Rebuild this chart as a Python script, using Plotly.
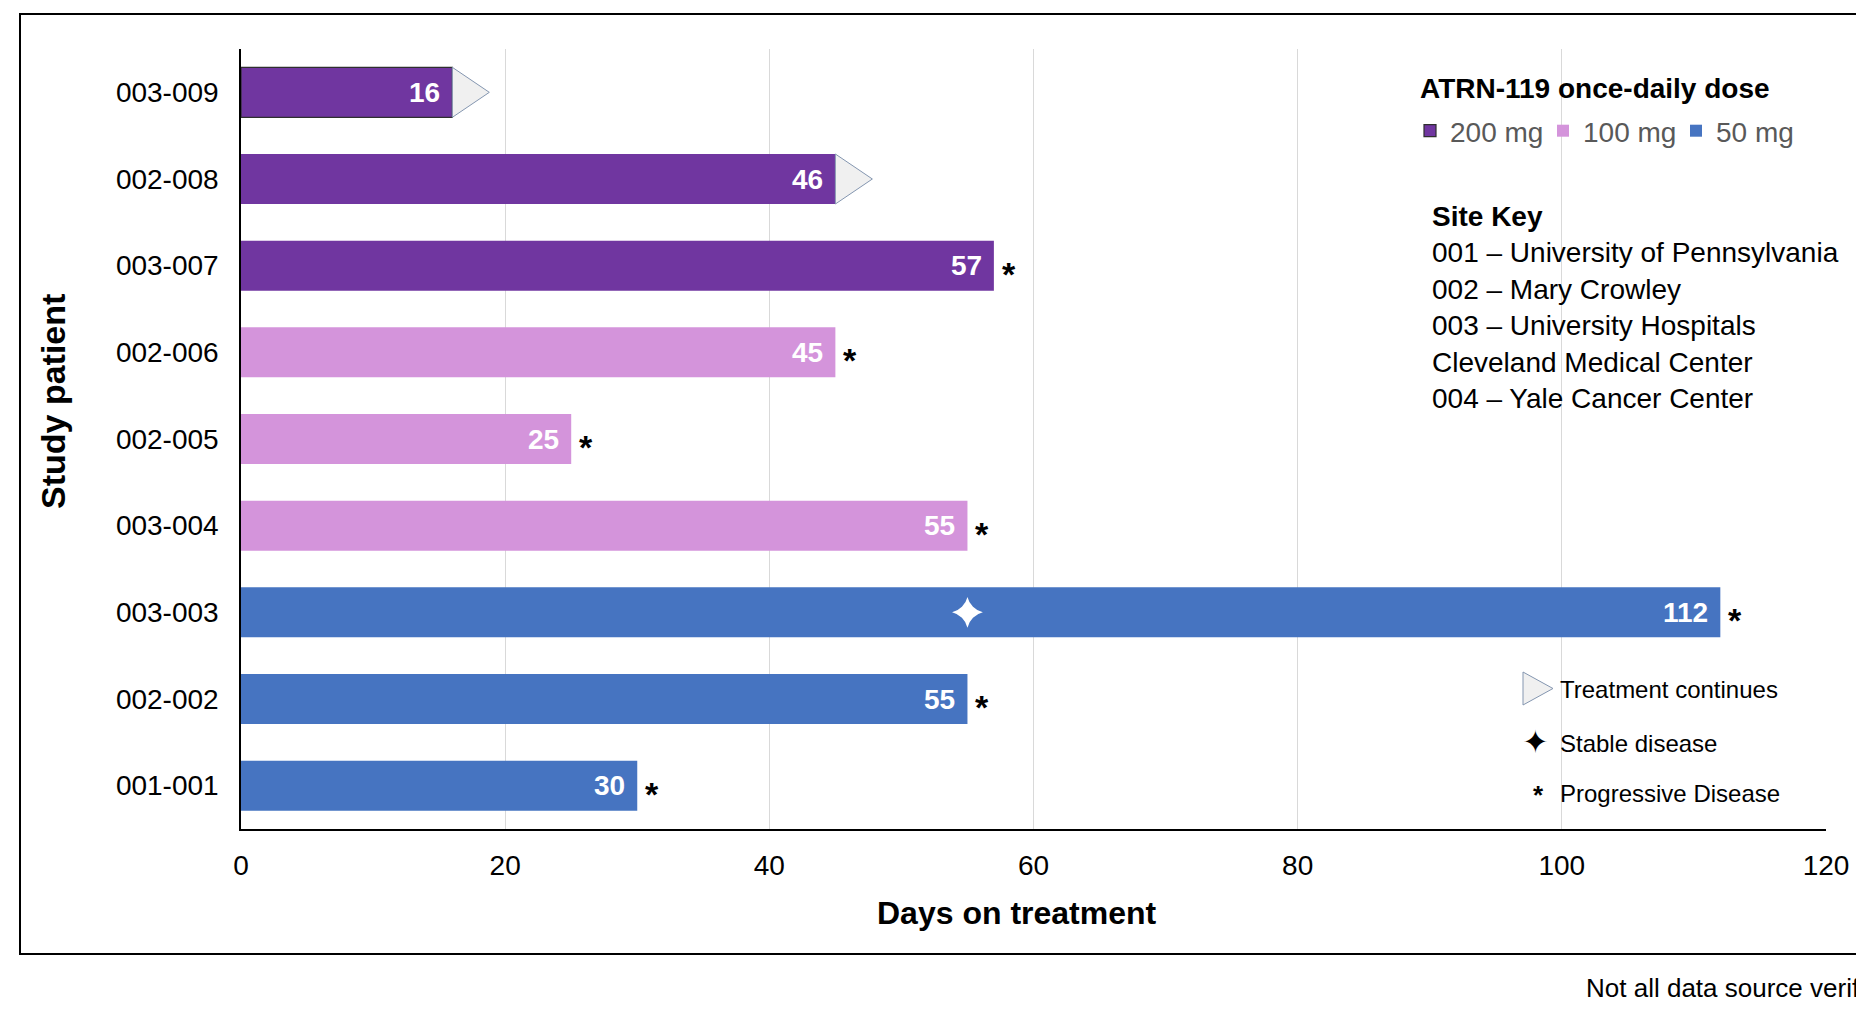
import plotly.graph_objects as go

# ---------------- data ----------------
patients = ["003-009", "002-008", "003-007", "002-006", "002-005",
            "003-004", "003-003", "002-002", "001-001"]
dose = ["200 mg", "200 mg", "200 mg", "100 mg", "100 mg",
        "100 mg", "50 mg", "50 mg", "50 mg"]
days_bar = [16, 45, 57, 45, 25, 55, 112, 55, 30]          # bar length as drawn
day_labels = ["16", "46", "57", "45", "25", "55", "112", "55", "30"]
treatment_continues = ["003-009", "002-008"]
progressive = ["003-007", "002-006", "002-005", "003-004", "003-003", "002-002", "001-001"]
stable_patient = ["003-003"]
stable_day = [55]
dose_levels = ["200 mg", "100 mg", "50 mg"]
x_ticks = [0, 20, 40, 60, 80, 100, 120]
site_key = ["001 – University of Pennsylvania", "002 – Mary Crowley",
            "003 – University Hospitals", "Cleveland Medical Center",
            "004 – Yale Cancer Center"]

# ---------------- style ----------------
FONT = "Liberation Sans, Arial, sans-serif"
colors = {"200 mg": "#7036A0", "100 mg": "#D494DB", "50 mg": "#4674C1"}
BAR_W = 0.577
TRI_LEN = 2.8
W, H = 1856, 1009
ML, MR, MT, MB = 241, 30, 49, 180
PW, PH = W - ML - MR, H - MT - MB


def px(x):
    return (x - ML) / PW


def py(y):
    return (H - MB - y) / PH


idx = {p: i for i, p in enumerate(patients)}
fig = go.Figure()

for d in dose_levels:
    sel = [i for i, v in enumerate(dose) if v == d]
    line_cols = ["#2F2F2F" if (patients[i] == "003-009") else "rgba(0,0,0,0)" for i in sel]
    fig.add_trace(go.Bar(
        y=[i for i in sel], x=[days_bar[i] for i in sel], orientation="h",
        name=d, width=BAR_W,
        marker=dict(color=colors[d], line=dict(color=line_cols, width=1.2)),
        hoverinfo="skip",
    ))

# treatment-continues triangles
tx, ty = [], []
for p in treatment_continues:
    i = idx[p]
    v = days_bar[i]
    tx += [v, v + TRI_LEN, v, v, None]
    ty += [i - BAR_W / 2, i, i + BAR_W / 2, i - BAR_W / 2, None]
fig.add_trace(go.Scatter(x=tx, y=ty, mode="lines", fill="toself",
                         fillcolor="#F0F0F0", line=dict(color="#8496B0", width=1),
                         showlegend=False, hoverinfo="skip"))

# stable disease star
fig.add_trace(go.Scatter(x=stable_day, y=[idx[p] for p in stable_patient], mode="markers",
                         marker=dict(symbol="star-diamond", size=22, color="white",
                                     line=dict(width=0)),
                         showlegend=False, hoverinfo="skip"))

annotations = []
# value labels inside bars
for i, p in enumerate(patients):
    annotations.append(dict(x=days_bar[i], y=i, xref="x", yref="y", text="<b>%s</b>" % day_labels[i],
                            showarrow=False, xanchor="right", yanchor="middle", xshift=-10,
                            font=dict(family=FONT, size=28, color="white")))
# progressive disease asterisks
for p in progressive:
    i = idx[p]
    annotations.append(dict(x=days_bar[i], y=i, xref="x", yref="y", text="<b>*</b>",
                            showarrow=False, xanchor="left", yanchor="middle", xshift=6, yshift=-8,
                            font=dict(family=FONT, size=34, color="black")))

# axis titles
annotations.append(dict(x=px(1017), y=py(913), xref="paper", yref="paper",
                        text="<b>Days on treatment</b>", showarrow=False,
                        xanchor="center", yanchor="middle",
                        font=dict(family=FONT, size=32, color="black")))
annotations.append(dict(x=px(53), y=py(402), xref="paper", yref="paper",
                        text="<b>Study patient</b>", showarrow=False, textangle=-90,
                        xanchor="center", yanchor="middle",
                        font=dict(family=FONT, size=34, color="black")))

# dose legend title
annotations.append(dict(x=px(1418), y=py(88), xref="paper", yref="paper",
                        text="<b>ATRN-119 once-daily dose</b>", showarrow=False,
                        xanchor="left", yanchor="middle",
                        font=dict(family=FONT, size=28, color="black")))

# site key
annotations.append(dict(x=px(1430), y=py(307), xref="paper", yref="paper",
                        text="<b>Site Key</b><br>" + "<br>".join(site_key),
                        showarrow=False, xanchor="left", yanchor="middle", align="left",
                        font=dict(family=FONT, size=28, color="black")))

# marker key (bottom right)
key_font = dict(family=FONT, size=24, color="black")
annotations.append(dict(x=px(1558), y=py(689), xref="paper", yref="paper", text="Treatment continues",
                        showarrow=False, xanchor="left", yanchor="middle", font=key_font))
annotations.append(dict(x=px(1558), y=py(743), xref="paper", yref="paper", text="Stable disease",
                        showarrow=False, xanchor="left", yanchor="middle", font=key_font))
annotations.append(dict(x=px(1558), y=py(793), xref="paper", yref="paper", text="Progressive Disease",
                        showarrow=False, xanchor="left", yanchor="middle", font=key_font))
annotations.append(dict(x=px(1535), y=py(742), xref="paper", yref="paper", text="✦",
                        showarrow=False, xanchor="center", yanchor="middle",
                        font=dict(family="DejaVu Sans", size=32, color="black")))
annotations.append(dict(x=px(1538), y=py(789), xref="paper", yref="paper", text="<b>*</b>",
                        showarrow=False, xanchor="center", yanchor="middle", yshift=-6,
                        font=dict(family=FONT, size=26, color="black")))

# footnote (cut off at the right edge, as in the source image)
annotations.append(dict(x=px(1584), y=py(988), xref="paper", yref="paper",
                        text="Not all data source verified", showarrow=False,
                        xanchor="left", yanchor="middle",
                        font=dict(family=FONT, size=26, color="black")))

shapes = [
    # outer frame
    dict(type="rect", xref="paper", yref="paper", x0=px(20), x1=1.05, y0=py(954), y1=py(14),
         line=dict(color="black", width=2), fillcolor="rgba(0,0,0,0)", layer="above"),
    # key triangle
    dict(type="path", xref="paper", yref="paper",
         path="M %f,%f L %f,%f L %f,%f Z" % (px(1523), py(672), px(1553), py(688.5), px(1523), py(705)),
         fillcolor="#F0F0F0", line=dict(color="#8496B0", width=1)),
]

fig.update_layout(
    width=W, height=H,
    margin=dict(l=ML, r=MR, t=MT, b=MB, pad=0, autoexpand=False),
    plot_bgcolor="white", paper_bgcolor="white",
    barmode="overlay",
    font=dict(family=FONT, size=28, color="black"),
    xaxis=dict(range=[0, 120], tickvals=x_ticks, showgrid=True, gridcolor="#D9D9D9", gridwidth=1,
               zeroline=False, showline=True, linecolor="black", linewidth=2, ticks="",
               ticklabelstandoff=10, tickfont=dict(family=FONT, size=28, color="black")),
    yaxis=dict(range=[len(patients) - 0.5, -0.5], tickvals=list(range(len(patients))),
               ticktext=patients, showgrid=False, zeroline=False, showline=True,
               linecolor="black", linewidth=1.5, ticks="", ticklabelstandoff=15,
               tickfont=dict(family=FONT, size=28, color="black")),
    legend=dict(orientation="h", x=px(1410), y=py(131), xanchor="left", yanchor="middle",
                font=dict(family=FONT, size=28, color="#595959"),
                bgcolor="rgba(0,0,0,0)", itemwidth=30, traceorder="normal",
                entrywidth=88, entrywidthmode="pixels"),
    annotations=annotations,
    shapes=shapes,
    showlegend=True,
)

fig.write_html("out.html")
